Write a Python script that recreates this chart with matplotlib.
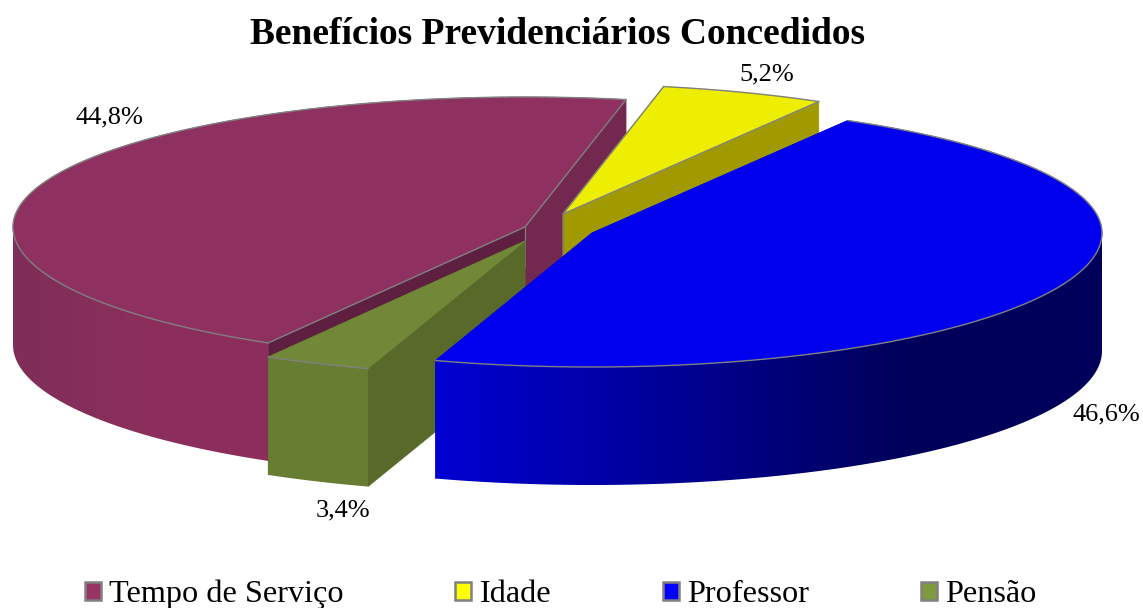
import numpy as np
import matplotlib
matplotlib.use("Agg")
import matplotlib.pyplot as plt
from matplotlib.patches import Patch, Polygon
from matplotlib.colors import to_rgb

plt.rcParams['font.family'] = ['Liberation Serif', 'DejaVu Serif']

categories = ["Tempo de Serviço", "Idade", "Professor", "Pensão"]
values = [44.8, 5.2, 46.6, 3.4]
labels = ["44,8%", "5,2%", "46,6%", "3,4%"]

top_colors = ["#8E3160", "#EEEE00", "#0000EE", "#708838"]
legend_colors = ["#993366", "#FFFF00", "#0000FF", "#7F9A3C"]
side_left = ["#7E2E58", "#A09A00", "#0000D2", "#667D32"]
side_right = ["#8B2E5C", "#A09A00", "#00005A", "#667D32"]
start_face = ["#5E1F40", "#A09A00", "#0000D2", "#58692A"]
end_face = ["#73284F", "#A09A00", "#0000D2", "#58692A"]
outlined = [True, True, False, False]

# pie tips in pixels, the slices are pulled apart
tip_x = [525, 563, 592, 525]
tip_y = [227, 214, 233, 241]
radius_x = [512, 510, 510, 512]
label_x = [109, 767, 1106, 343]
label_y = [117, 74, 414, 510]
# where the side gradient runs, in pixels
grad_from = [13, 0, 437, 0]
grad_to = [133, 1143, 900, 1143]
draw_order = [0, 1, 3, 2]

RY_BACK = 130
RY_FRONT = 134
DEPTH = 118
START = -120.1
GRAY = "#808080"

angles = START - np.cumsum([0] + values) * 3.6

fig = plt.figure(figsize=(11.43, 6.08), dpi=100)
ax = fig.add_axes([0, 0, 1, 1])
z = 1


def arc_points(i, a):
    s = np.sin(np.radians(a))
    return tip_x[i] + radius_x[i] * np.cos(np.radians(a)), tip_y[i] - np.where(s < 0, RY_FRONT, RY_BACK) * s


def face(i, a, color):
    global z
    x, y = arc_points(i, a)
    pts = [(tip_x[i], tip_y[i]), (x, y), (x, y + DEPTH), (tip_x[i], tip_y[i] + DEPTH)]
    ax.add_patch(Polygon(pts, closed=True, fc=color, ec=color, lw=0.5, zorder=z))
    z += 1


for i in draw_order:
    a0, a1 = angles[i], angles[i + 1]
    arc = np.linspace(a0, a1, 300)
    xs, ys = arc_points(i, arc)

    face(i, a0, start_face[i])
    face(i, a1, end_face[i])

    # outer side, only the part turned to the viewer, a gradient clipped to its outline
    front = np.sin(np.radians(arc)) < 0.005
    if front.any():
        fx, fy = xs[front], ys[front]
        outline = np.column_stack([np.r_[fx, fx[::-1]], np.r_[fy, fy[::-1] + DEPTH]])
        frac = np.clip((np.arange(1143) - grad_from[i]) / (grad_to[i] - grad_from[i]), 0, 1)
        c_left = np.array(to_rgb(side_left[i]))
        c_right = np.array(to_rgb(side_right[i]))
        strip = (c_left + (c_right - c_left) * frac[:, None])[None, :, :]
        im = ax.imshow(strip, extent=(0, 1143, 608, 0), aspect="auto", zorder=z)
        clip = Polygon(outline, closed=True, fc="none", ec="none", transform=ax.transData)
        ax.add_patch(clip)
        im.set_clip_path(clip)
        z += 1

    # top of the slice
    top = np.column_stack([np.r_[tip_x[i], xs], np.r_[tip_y[i], ys]])
    ax.add_patch(Polygon(top, closed=True, fc=top_colors[i], ec=top_colors[i], lw=0.5, zorder=z))
    z += 1
    ax.plot(xs, ys, color=GRAY, lw=1.0, solid_capstyle="round", zorder=z)
    if outlined[i]:
        ax.plot([xs[0], tip_x[i], xs[-1]], [ys[0], tip_y[i], ys[-1]], color=GRAY, lw=1.0, zorder=z)
        ax.plot([tip_x[i], tip_x[i]], [tip_y[i], tip_y[i] + 40], color=GRAY, lw=0.8, zorder=z)
    z += 1

ax.set_xlim(0, 1143)
ax.set_ylim(608, 0)
ax.axis("off")

for i in range(len(values)):
    ax.text(label_x[i], label_y[i], labels[i], fontsize=19, ha="center", va="center",
            color="black", zorder=z)

ax.text(557, 35, "Benefícios Previdenciários Concedidos", fontsize=27, fontweight="bold",
        ha="center", va="center", color="black", zorder=z)

handles = [Patch(fc=c, ec=GRAY, lw=1.8) for c in legend_colors]
ax.legend(handles, categories, loc="lower center", bbox_to_anchor=(0.4904, -0.034), ncol=4,
          frameon=False, fontsize=23.2, handlelength=0.5, handleheight=0.5,
          handletextpad=0.25, columnspacing=3.47, borderpad=0.1)

fig.savefig("out.png", dpi=100)
